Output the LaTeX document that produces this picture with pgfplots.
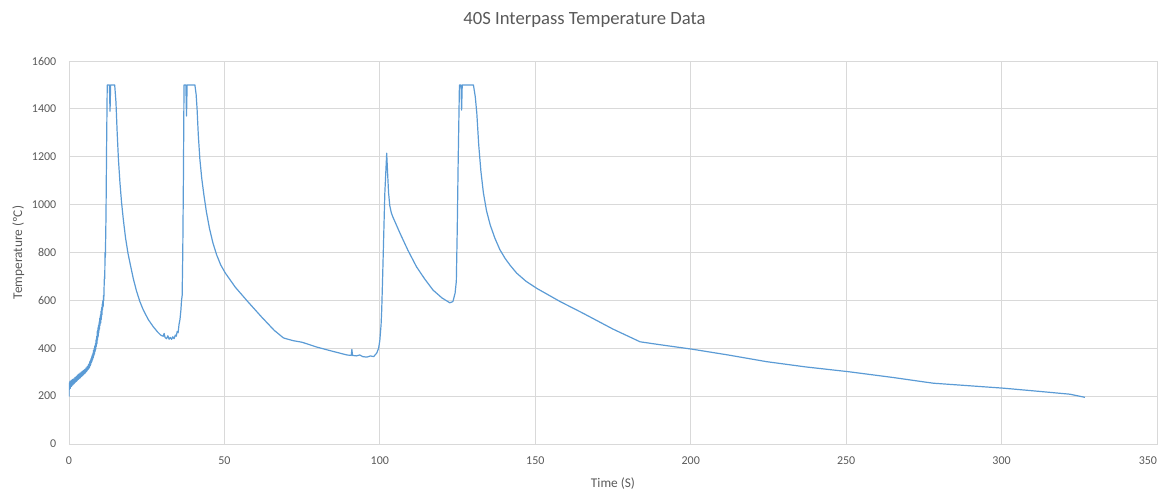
\documentclass[border=0pt]{standalone}
\usepackage{fontspec}
\setmainfont{Carlito}
\usepackage{pgfplots}
\pgfplotsset{compat=1.18}
\definecolor{linecol}{RGB}{91,155,213}
\definecolor{gridcol}{RGB}{217,217,217}
\definecolor{txtcol}{RGB}{89,89,89}
\begin{document}
\begin{tikzpicture}
\begin{axis}[
    scale only axis,
    width=816pt, height=287.25pt,
    xmin=0, xmax=350, ymin=0, ymax=1600,
    xtick={0,50,...,350}, ytick={0,200,...,1600},
    xticklabels={0,50,100,150,200,250,300,\llap{350}},
    major tick length=0pt,
    xmajorgrids, ymajorgrids,
    grid style={gridcol, line width=0.6pt},
    axis line style={gridcol, line width=0.6pt},
    tick label style={font=\fontsize{9}{10}\selectfont, text=txtcol},
    /pgf/number format/assume math mode=true,
    /pgf/number format/1000 sep={},
    xticklabel style={yshift=-6pt},
    yticklabel style={xshift=-6pt},
    xlabel={Time (S)}, ylabel={Temperature (ºC)},
    label style={font=\fontsize{10}{12}\selectfont, text=txtcol},
    xlabel style={at={(axis description cs:0.5,0)}, anchor=center, yshift=-30pt},
    ylabel style={at={(axis description cs:0,0.5)}, anchor=center, rotate=0, yshift=38pt},
]
% thermocouple trace
\addplot[linecol, line width=0.9pt, line join=round] coordinates {
(0.0,198) (0.1,255) (0.2,238) (0.3,262) (0.4,232) (0.5,258) (0.6,244) (0.7,266) (0.8,240) (0.9,262)
(1.0,248) (1.1,270) (1.2,246) (1.3,265) (1.4,250) (1.5,272) (1.6,252) (1.7,268) (1.8,255) (1.9,278)
(2.0,258) (2.1,275) (2.2,260) (2.3,282) (2.4,262) (2.5,280) (2.6,265) (2.7,288) (2.8,268) (2.9,285)
(3.0,270) (3.1,292) (3.2,272) (3.3,290) (3.4,275) (3.5,296) (3.6,276) (3.7,294) (3.8,280) (3.9,300)
(4.0,282) (4.1,298) (4.2,284) (4.3,304) (4.4,286) (4.5,302) (4.6,290) (4.7,308) (4.8,292) (4.9,306)
(5.0,294) (5.1,312) (5.2,296) (5.3,310) (5.4,300) (5.5,318) (5.6,302) (5.7,316) (5.8,306) (5.9,324)
(6.0,310) (6.1,326) (6.2,312) (6.3,332) (6.4,316) (6.5,336) (6.6,320) (6.7,344) (6.8,326) (6.9,350)
(7.0,332) (7.1,356) (7.2,340) (7.3,364) (7.4,346) (7.5,372) (7.6,352) (7.7,380) (7.8,360) (7.9,392)
(8.0,368) (8.1,400) (8.2,376) (8.3,410) (8.4,386) (8.5,420) (8.6,396) (8.7,435) (8.8,408) (8.9,450)
(9.0,420) (9.1,470) (9.2,435) (9.3,485) (9.4,450) (9.5,495) (9.6,465) (9.7,510) (9.8,480) (9.9,525)
(10.0,495) (10.1,540) (10.2,505) (10.3,555) (10.4,520) (10.5,570) (10.6,540) (10.7,585) (10.8,560)
(10.9,600) (11.0,575) (11.1,620) (11.2,600) (11.3,660) (11.4,700) (11.5,690) (11.6,800) (11.7,780)
(11.9,950) (12.1,1250) (12.3,1500) (13.0,1500) (13.2,1390) (13.4,1500) (14.7,1500)
(15.1,1430) (15.5,1300) (15.9,1190) (16.4,1090) (16.9,1010) (17.5,935) (18.2,860) (19.0,795)
(19.8,745) (20.7,690) (21.7,640) (22.8,595) (23.9,560) (25.5,520) (27.1,490) (28.5,468) (29.5,455)
(30.3,450) (30.6,462) (30.9,445) (31.4,440) (31.8,452) (32.2,438) (32.6,445) (33.0,437) (33.4,448)
(33.8,440) (34.2,455) (34.5,450) (34.8,470) (35.1,465) (35.4,500) (35.7,520) (36.0,560) (36.2,600)
(36.4,620) (36.6,800) (36.8,1100) (37.0,1500) (37.6,1500) (37.8,1370) (38.0,1500) (40.5,1500)
(40.9,1460) (41.2,1400) (41.6,1290) (42.1,1190) (42.7,1110) (43.4,1040) (44.2,970) (45.2,900)
(46.3,840) (47.5,790) (48.8,748) (50.3,714) (53.5,655) (57.5,595) (62,530) (66,475) (69,443)
(72,432) (75,425) (79.7,405) (84,390) (89.4,372) (90.8,370) (91,395) (91.2,370) (92.5,368)
(93.5,372) (94.5,365) (95.8,363) (97,368) (98,365) (99,380) (99.6,400) (100,434) (100.4,500)
(100.6,560) (100.9,700) (101.3,900) (101.6,1048) (102.2,1215) (102.5,1130) (102.8,1050)
(103.2,995) (103.7,965) (104.2,948) (106.5,880) (109,810) (111.8,740) (114.5,688) (117.1,643)
(120,610) (122.5,590) (123.5,595) (124.2,630) (124.6,680) (124.9,900) (125.2,1186) (125.6,1500)
(126.1,1500) (126.3,1395) (126.5,1500) (130.1,1500) (130.7,1450) (131.2,1380) (131.8,1250)
(132.5,1140) (133.3,1050) (134.3,975) (135.5,915) (137,860) (138.6,812) (140.3,775) (142,745)
(144,714) (147,680) (150.5,650) (158,595) (165.4,546) (175,480) (183.7,427) (190,415) (200.5,396)
(212,372) (224.4,344) (237,322) (250.8,302) (265,278) (278,254) (290,243) (300.8,233) (312,220)
(322,208) (326.8,195)
};
\end{axis}
\node[font=\fontsize{14}{16}\selectfont, text=txtcol] at ([xshift=386.6pt, yshift=30.75pt]current axis.north west) {40S Interpass Temperature Data};
\pgfresetboundingbox
\path ([xshift=-51.75pt, yshift=-39.75pt]current axis.south west) rectangle ([xshift=4.5pt, yshift=45.75pt]current axis.north east);
\end{tikzpicture}
\end{document}
